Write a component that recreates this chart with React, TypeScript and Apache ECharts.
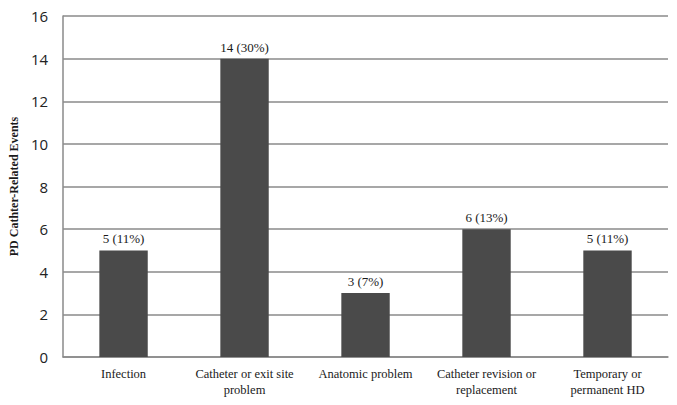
import React, { useEffect, useRef } from "react";
import * as echarts from "echarts";

const categories = [
  "Infection",
  "Catheter or exit site\nproblem",
  "Anatomic problem",
  "Catheter revision or\nreplacement",
  "Temporary or\npermanent HD",
];
const counts = [5, 14, 3, 6, 5];
const percents = ["11%", "30%", "7%", "13%", "11%"];
const yTicks = [0, 2, 4, 6, 8, 10, 12, 14, 16];

const SERIF = "'Liberation Serif', 'Times New Roman', serif";
const SANS = "'Open Sans', 'Noto Sans', sans-serif";

export default function App() {
  const ref = useRef<HTMLDivElement>(null);
  useEffect(() => {
    const chart = echarts.init(ref.current!, null, { renderer: "svg" });
    chart.setOption({
      animation: false,
      backgroundColor: "#ffffff",
      grid: { left: 59, right: 9, top: 16, bottom: 48, containLabel: false },
      xAxis: {
        type: "category",
        data: categories,
        axisLine: { show: true, lineStyle: { color: "#8a8a8a", width: 1.5 } },
        axisTick: { show: false },
        axisLabel: {
          interval: 0,
          margin: 9,
          color: "#1a1a1a",
          fontFamily: SERIF,
          fontSize: 12.5,
          lineHeight: 16,
        },
      },
      yAxis: {
        type: "value",
        min: yTicks[0],
        max: yTicks[yTicks.length - 1],
        interval: 2,
        name: "PD Cathter-Related Events",
        nameLocation: "middle",
        nameGap: 40,
        nameTextStyle: {
          fontFamily: SERIF,
          fontWeight: "bold",
          fontSize: 12,
          color: "#1a1a1a",
        },
        axisLine: { show: true, lineStyle: { color: "#8a8a8a", width: 1.5 } },
        axisTick: { show: false },
        axisLabel: {
          margin: 15,
          color: "#222222",
          fontFamily: SANS,
          fontSize: 15,
        },
        splitLine: { show: true, lineStyle: { color: "#8a8a8a", width: 1.5 } },
      },
      series: [
        {
          type: "bar",
          data: counts,
          barWidth: "40%",
          itemStyle: { color: "#4a4a4a" },
          label: {
            show: true,
            position: "top",
            distance: 5,
            color: "#1a1a1a",
            fontFamily: SERIF,
            fontSize: 13,
            formatter: (p: any) => `${p.value} (${percents[p.dataIndex]})`,
          },
        },
      ],
    });
    return () => chart.dispose();
  }, []);
  return (
    <div
      ref={ref}
      style={{ position: "fixed", left: 0, top: 0, width: 677, height: 405 }}
    />
  );
}
